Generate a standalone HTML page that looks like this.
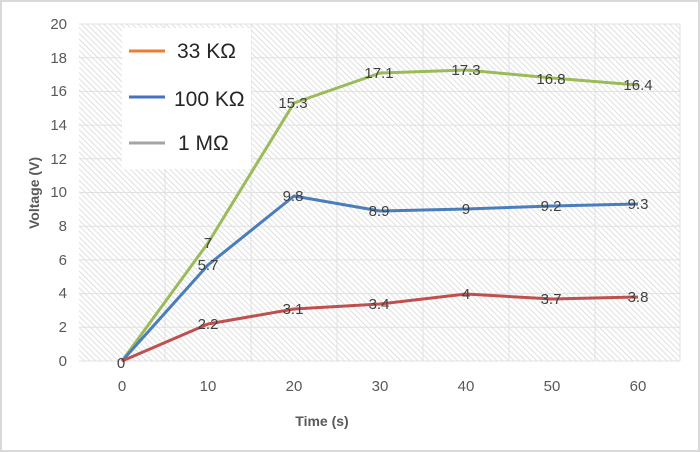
<!DOCTYPE html>
<html><head><style>
body{margin:0;background:#fff}
svg{display:block;font-family:"Liberation Sans",sans-serif}
</style></head><body>
<svg width="700" height="452" xmlns="http://www.w3.org/2000/svg">
<defs>
<pattern id="h" width="4" height="4" patternUnits="userSpaceOnUse" patternTransform="rotate(-45)">
<rect width="4" height="4" fill="#fff"/><line x1="0" y1="0" x2="0" y2="4" stroke="#d4d4d4" stroke-width="1.4"/>
</pattern>
</defs>
<rect x="1" y="1" width="698" height="450" fill="#fff" stroke="#d9d9d9" stroke-width="2"/>
<rect x="79" y="24" width="601" height="337" fill="url(#h)"/>
<g stroke="#e0e0e0" stroke-width="1">
<line x1="79" x2="680" y1="24" y2="24"/><line x1="79" x2="680" y1="57.7" y2="57.7"/><line x1="79" x2="680" y1="91.4" y2="91.4"/><line x1="79" x2="680" y1="125.1" y2="125.1"/><line x1="79" x2="680" y1="158.8" y2="158.8"/><line x1="79" x2="680" y1="192.5" y2="192.5"/><line x1="79" x2="680" y1="226.2" y2="226.2"/><line x1="79" x2="680" y1="259.9" y2="259.9"/><line x1="79" x2="680" y1="293.6" y2="293.6"/><line x1="79" x2="680" y1="327.3" y2="327.3"/><line x1="79" x2="680" y1="361" y2="361"/>
<line x1="165" x2="165" y1="24" y2="361"/><line x1="251" x2="251" y1="24" y2="361"/><line x1="337" x2="337" y1="24" y2="361"/><line x1="423" x2="423" y1="24" y2="361"/><line x1="509" x2="509" y1="24" y2="361"/><line x1="595" x2="595" y1="24" y2="361"/><line x1="680" x2="680" y1="24" y2="361"/>
</g>
<g font-size="15" fill="#595959" text-anchor="end">
<text x="67" y="29">20</text><text x="67" y="63">18</text><text x="67" y="96">16</text><text x="67" y="130">14</text><text x="67" y="164">12</text><text x="67" y="197">10</text><text x="67" y="231">8</text><text x="67" y="265">6</text><text x="67" y="298">4</text><text x="67" y="332">2</text><text x="67" y="366">0</text>
</g>
<g font-size="15" fill="#595959" text-anchor="middle">
<text x="122" y="391">0</text><text x="208" y="391">10</text><text x="294" y="391">20</text><text x="380" y="391">30</text><text x="466" y="391">40</text><text x="552" y="391">50</text><text x="638" y="391">60</text>
</g>
<text x="322" y="426" font-size="14" font-weight="bold" fill="#595959" text-anchor="middle">Time (s)</text>
<text transform="translate(39,193) rotate(-90)" font-size="14" font-weight="bold" fill="#595959" text-anchor="middle">Voltage (V)</text>
<g fill="none" stroke-width="3" stroke-linejoin="round">
<polyline stroke="#9bbb59" points="122,361 208,243 294,103 380,73 466,70 552,78 638,85"/>
<polyline stroke="#4a7ebb" points="122,361 208,265 294,196 380,211 466,209 552,206 638,204"/>
<polyline stroke="#c0504d" points="122,361 208,324 294,309 380,304 466,294 552,299 638,297"/>
</g>
<g font-size="15" fill="#404040" text-anchor="middle">
<text x="121" y="368">0</text>
<text x="208" y="248">7</text><text x="293" y="108">15.3</text><text x="379" y="78">17.1</text><text x="466" y="75">17.3</text><text x="551" y="84">16.8</text><text x="638" y="90">16.4</text>
<text x="208" y="270">5.7</text><text x="293" y="201">9.8</text><text x="379" y="216">8.9</text><text x="466" y="214">9</text><text x="551" y="211">9.2</text><text x="638" y="209">9.3</text>
<text x="208" y="329">2.2</text><text x="293" y="314">3.1</text><text x="379" y="309">3.4</text><text x="466" y="299">4</text><text x="551" y="304">3.7</text><text x="638" y="302">3.8</text>
</g>
<rect x="122" y="28" width="129" height="141" fill="#fff"/>
<g stroke-width="3">
<line x1="129" x2="165" y1="51" y2="51" stroke="#ed7d31"/>
<line x1="129" x2="165" y1="97" y2="97" stroke="#4472c4"/>
<line x1="129" x2="165" y1="143" y2="143" stroke="#a5a5a5"/>
</g>
<g font-size="21" fill="#262626">
<text x="177" y="58">33 KΩ</text><text x="174" y="106">100 KΩ</text><text x="178" y="150">1 MΩ</text>
</g>
</svg>
</body></html>
